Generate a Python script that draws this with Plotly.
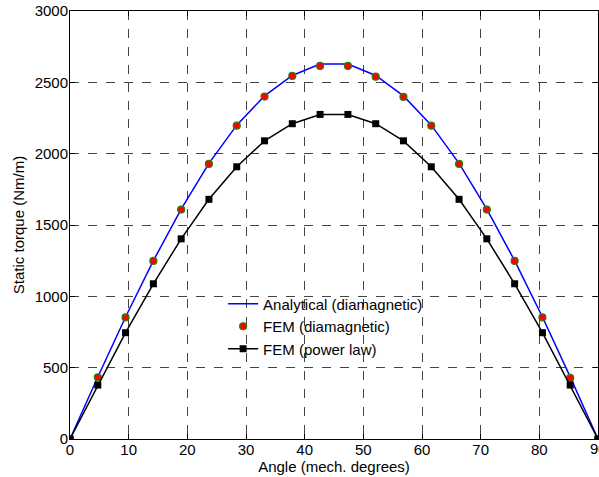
import plotly.graph_objects as go

angle = [0, 4.74, 9.47, 14.21, 18.95, 23.68, 28.42, 33.16, 37.89, 42.63,
         47.37, 52.11, 56.84, 61.58, 66.32, 71.05, 75.79, 80.53, 85.26, 90]
analytical = [0, 435, 855, 1250, 1612, 1932, 2200, 2405, 2548, 2628,
              2628, 2548, 2405, 2200, 1932, 1612, 1250, 855, 435, 0]
fem_dia = [0, 432, 852, 1248, 1608, 1928, 2196, 2400, 2545, 2615,
           2615, 2540, 2398, 2196, 1928, 1608, 1248, 852, 428, 0]
fem_power = [0, 378, 745, 1088, 1403, 1680, 1908, 2090, 2210, 2275,
             2275, 2210, 2090, 1908, 1680, 1403, 1088, 745, 378, 0]

x_ticks = [0, 10, 20, 30, 40, 50, 60, 70, 80, 90]
y_ticks = [0, 500, 1000, 1500, 2000, 2500, 3000]

FONT = "Liberation Sans, Arial, Helvetica"
FS = 15

fig = go.Figure()
fig.add_trace(go.Scatter(x=angle, y=analytical, mode="lines", name="Analytical (diamagnetic)",
                         line=dict(color="#0000ff", width=1.5)))
fig.add_trace(go.Scatter(x=angle, y=fem_dia, mode="markers", name="FEM (diamagnetic)",
                         marker=dict(color="#ff0000", size=7, line=dict(color="#2e7d10", width=1.2))))
fig.add_trace(go.Scatter(x=angle, y=fem_power, mode="lines+markers", name="FEM (power law)",
                         line=dict(color="black", width=1.5),
                         marker=dict(symbol="square", color="black", size=7)))

axis_common = dict(showline=True, linecolor="black", linewidth=1, mirror="ticks",
                   ticks="inside", ticklen=5, tickcolor="black", zeroline=False,
                   showgrid=True, gridcolor="#444444", griddash="dash", gridwidth=1,
                   tickfont=dict(family=FONT, size=FS, color="black"))

fig.update_xaxes(range=[0, 90], tickvals=x_ticks[:-1], **axis_common, ticklabelstandoff=-3,
                 title=dict(text="Angle (mech. degrees)", standoff=0,
                            font=dict(family=FONT, size=FS, color="black")))
fig.update_yaxes(range=[0, 3000], tickvals=y_ticks, **axis_common, ticklabelstandoff=-2,
                 title=dict(text="Static torque (Nm/m)", standoff=6,
                            font=dict(family=FONT, size=FS, color="black")))

# last x tick label sits on the right edge of the figure and is clipped there
fig.add_annotation(x=x_ticks[-1], y=0, xref="x", yref="paper", text=str(x_ticks[-1]),
                   showarrow=False, yanchor="top", yshift=1, xanchor="center",
                   font=dict(family=FONT, size=FS, color="black"))
# keep grid line at 90 consistent (frame line is drawn by mirror)

fig.update_layout(
    width=599, height=477,
    margin=dict(l=70, r=1, t=11, b=38),
    plot_bgcolor="white", paper_bgcolor="white",
    font=dict(family=FONT, size=FS, color="black"),
    legend=dict(x=0.29, y=0.354, xanchor="left", yanchor="top", bgcolor="rgba(0,0,0,0)",
                borderwidth=0, font=dict(size=FS), tracegroupgap=0, itemwidth=30),
    showlegend=True,
)

fig.write_html("out.html", config={"displayModeBar": False},
               post_script="document.body.style.margin='0px';document.body.style.overflow='hidden';")
